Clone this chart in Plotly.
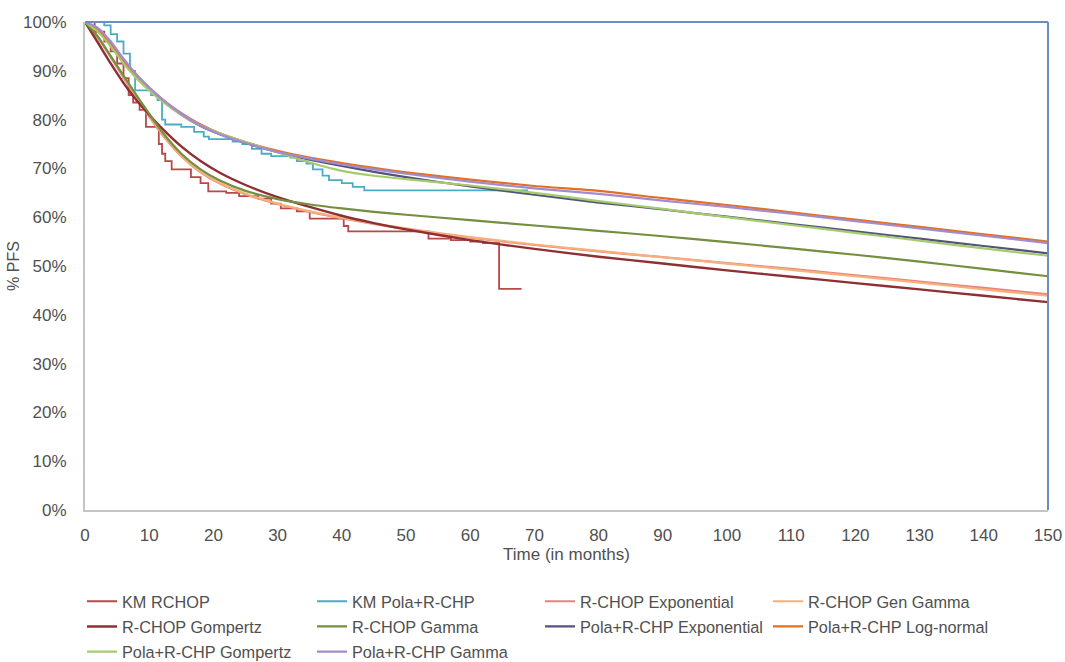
import plotly.graph_objects as go

# ---------------- data ----------------
# Kaplan-Meier step curves (month, % PFS)
km_rchop_t = [0, 1.5, 3, 4, 5, 6, 6.8, 7.5, 8.5, 9.5, 11.5, 12, 12.5, 13.5, 16.5, 18, 19.2, 22, 24, 27, 29,
              30.5, 33, 35, 40.3, 41, 53.5, 57, 60, 62, 64.5, 68]
km_rchop_s = [100, 98, 96, 94, 91.5, 88.5, 85, 83.5, 82, 78.5, 75, 73, 71.5, 69.8, 68.2, 67, 65.3, 65, 64.3, 63.8, 62.8,
              61.8, 61.2, 59.7, 58.2, 57.1, 55.6, 55.3, 55.0, 54.7, 45.3, 45.3]

km_pola_t = [0, 3, 4, 5, 6, 7, 7.8, 10.3, 11.3, 12, 12.5, 15, 17, 18.5, 19.3, 23, 24.5, 26, 27.5, 29, 32, 33,
             34.5, 35.5, 37, 38, 40, 41.7, 43.5, 69]
km_pola_s = [100, 99.3, 97.5, 96, 93.5, 90, 86, 85, 84, 80, 79, 78.5, 77.5, 76.5, 76, 75.5, 75, 74, 73, 72.5, 72.2, 71.5,
             71, 69.8, 68.5, 67.6, 67, 66.2, 65.5, 65.5]

# Fitted parametric curves, all on this month grid
months = [0, 2, 4, 6, 8, 10, 12, 15, 18, 21, 25, 30, 35, 40, 45, 50, 60, 70, 80, 90, 100, 110, 120, 130, 140, 150]

rchop_exponential = [100, 96.8, 92.8, 88.6, 84.5, 80.6, 77.0, 72.5, 69.2, 66.9, 64.7, 62.7, 61.1, 59.8, 58.6, 57.6,
                     55.8, 54.3, 53.0, 51.8, 50.6, 49.4, 48.1, 46.8, 45.5, 44.2]
rchop_gen_gamma = [100, 97.0, 93.0, 88.8, 84.7, 80.8, 77.2, 72.6, 69.3, 67.0, 64.8, 62.8, 61.2, 59.9, 58.7, 57.7,
                   55.9, 54.4, 53.1, 51.8, 50.5, 49.2, 47.9, 46.6, 45.2, 43.9]
rchop_gompertz = [100, 95.8, 91.5, 87.5, 84.0, 81.0, 78.2, 74.5, 71.5, 69.1, 66.6, 64.1, 62.1, 60.3, 58.8, 57.5,
                  55.3, 53.5, 51.9, 50.5, 49.1, 47.8, 46.5, 45.2, 43.9, 42.6]
rchop_gamma = [100, 97.0, 93.0, 89.0, 85.0, 81.2, 77.5, 73.0, 69.8, 67.5, 65.4, 63.7, 62.6, 61.8, 61.1, 60.5,
               59.4, 58.3, 57.2, 56.1, 54.9, 53.6, 52.3, 50.9, 49.4, 47.9]
pola_exponential = [100, 98.3, 95.5, 92.0, 89.0, 86.3, 84.0, 81.0, 78.7, 77.0, 75.2, 73.3, 71.8, 70.5, 69.3, 68.2,
                    66.3, 64.6, 63.0, 61.6, 60.1, 58.6, 57.1, 55.6, 54.1, 52.6]
pola_lognormal = [100, 98.5, 95.5, 92.0, 89.0, 86.5, 84.2, 81.3, 79.0, 77.2, 75.4, 73.6, 72.2, 71.1, 70.1, 69.2,
                  67.7, 66.4, 65.4, 63.9, 62.5, 61.0, 59.5, 58.0, 56.5, 55.0]
pola_gompertz = [100, 98.0, 95.0, 91.5, 88.5, 86.0, 83.8, 81.0, 78.8, 77.2, 75.4, 73.3, 71.2, 69.5, 68.5, 67.8,
                 66.5, 65.0, 63.3, 61.7, 60.0, 58.4, 56.8, 55.2, 53.6, 52.1]
pola_gamma = [100, 98.8, 96.0, 92.5, 89.3, 86.6, 84.2, 81.2, 78.8, 77.0, 75.2, 73.4, 72.0, 70.8, 69.8, 68.9,
              67.3, 65.9, 64.8, 63.4, 62.1, 60.7, 59.2, 57.7, 56.2, 54.7]

x_ticks = [0, 10, 20, 30, 40, 50, 60, 70, 80, 90, 100, 110, 120, 130, 140, 150]
y_ticks = [0, 10, 20, 30, 40, 50, 60, 70, 80, 90, 100]

# ---------------- figure ----------------
FONT = "Liberation Sans, Arial, sans-serif"
TXT = "#505050"

fig = go.Figure()

def km(name, t, s, color, legend):
    fig.add_trace(go.Scatter(x=t, y=s, mode="lines", name=name, line=dict(color=color, width=1.8, shape="hv"),
                             legend=legend, legendgroup=name))

def fit(name, y, color, legend, width=2.2):
    fig.add_trace(go.Scatter(x=months, y=y, mode="lines", name=name,
                             line=dict(color=color, width=width, shape="spline", smoothing=0.6),
                             legend=legend, legendgroup=name))

km("KM RCHOP", km_rchop_t, km_rchop_s, "#B8484A", "legend")
km("KM Pola+R-CHP", km_pola_t, km_pola_s, "#4BACC6", "legend2")
fit("R-CHOP Exponential", rchop_exponential, "#E6837E", "legend3")
fit("R-CHOP Gen Gamma", rchop_gen_gamma, "#F8B07A", "legend4")
fit("R-CHOP Gompertz", rchop_gompertz, "#8E2F33", "legend", 2.4)
fit("R-CHOP Gamma", rchop_gamma, "#738F3F", "legend2")
fit("Pola+R-CHP Exponential", pola_exponential, "#545478", "legend3")
fit("Pola+R-CHP Log-normal", pola_lognormal, "#E07024", "legend4")
fit("Pola+R-CHP Gompertz", pola_gompertz, "#A5CB6E", "legend")
fit("Pola+R-CHP Gamma", pola_gamma, "#A48BCF", "legend2")

# The page body margin is removed in the page script below, so the figure starts at (0, 0).
FIG_W, FIG_H = 1065, 662
L, R, T, B = 85, 1048, 22, 510          # plot-area edges in page pixels
W = R - L

def px2paper(px):
    return (px - L) / W

leg_common = dict(orientation="v", xanchor="left", yanchor="top", y=-0.152,
                  font=dict(family=FONT, size=16.3, color=TXT), bgcolor="rgba(0,0,0,0)",
                  tracegroupgap=1, itemwidth=30)

fig.update_layout(
    width=FIG_W, height=FIG_H,
    margin=dict(l=L, r=FIG_W - R, t=T, b=FIG_H - B, autoexpand=False),
    paper_bgcolor="white", plot_bgcolor="white",
    font=dict(family=FONT, color=TXT, size=16),
    showlegend=True,
    legend=dict(x=px2paper(82), **leg_common),
    legend2=dict(x=px2paper(312), **leg_common),
    legend3=dict(x=px2paper(540), **leg_common),
    legend4=dict(x=px2paper(768), **leg_common),
    xaxis=dict(range=[0, 150], tickvals=x_ticks, ticktext=[str(v) for v in x_ticks],
               showgrid=False, zeroline=False, showline=True, linecolor="#C4C4C4", linewidth=2,
               ticks="", ticklabelstandoff=9, tickfont=dict(size=17, color=TXT),
               ticklabeloverflow="allow",
               title=dict(text="Time (in months)", font=dict(size=17, color=TXT), standoff=1),
               automargin=False, fixedrange=True),
    yaxis=dict(range=[0, 100], tickvals=y_ticks, ticktext=[f"{v}%" for v in y_ticks],
               showgrid=False, zeroline=False, showline=True, linecolor="#C4C4C4", linewidth=2,
               ticks="", ticklabelstandoff=13, tickfont=dict(size=17, color=TXT),
               ticklabeloverflow="allow",
               title=dict(text="% PFS", font=dict(size=16, color=TXT), standoff=0),
               automargin=False, fixedrange=True),
    shapes=[
        dict(type="line", xref="x domain", yref="y domain", x0=0, x1=1, y0=1, y1=1,
             line=dict(color="#6E8DBE", width=2)),
        dict(type="line", xref="x domain", yref="y domain", x0=1, x1=1, y0=0, y1=1,
             line=dict(color="#6E8DBE", width=2)),
    ],
)

# remove the default page margin and scrollbars so the figure fills the 1065x662 window exactly
fig.write_html(
    "out.html",
    config={"displayModeBar": False},
    post_script=("document.body.style.margin='0';"
                 "document.documentElement.style.overflow='hidden';"
                 "document.body.style.overflow='hidden';"),
)
